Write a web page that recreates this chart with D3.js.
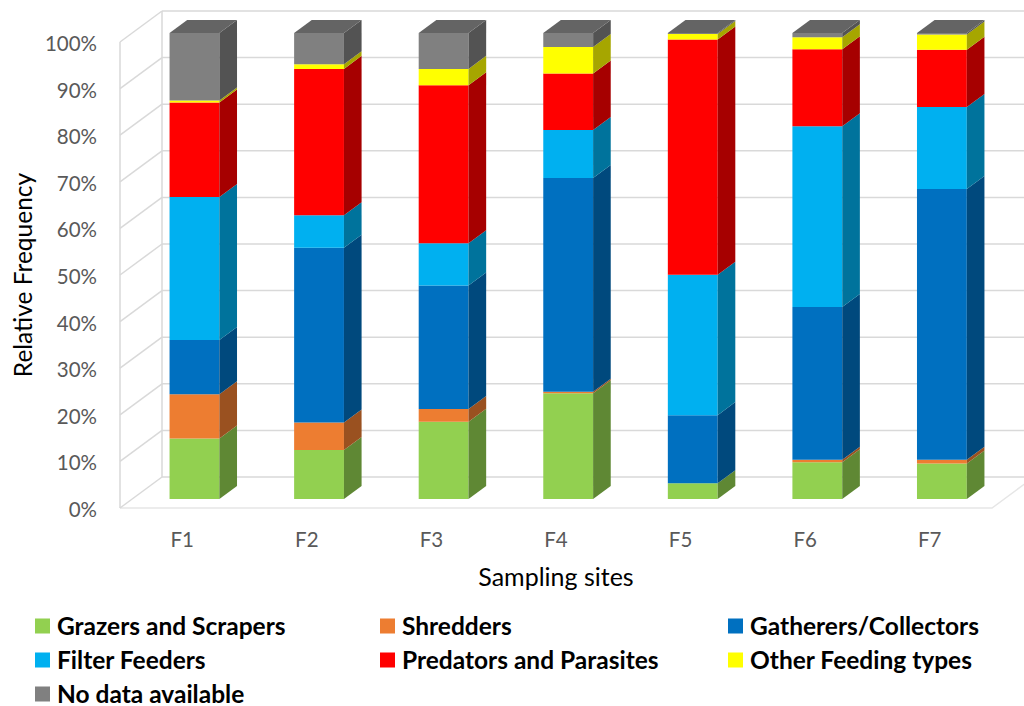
<!DOCTYPE html>
<html>
<head>
<meta charset="utf-8">
<script src="https://cdn.jsdelivr.net/npm/d3@7/dist/d3.min.js"></script>
<style>
  html, body { margin: 0; padding: 0; background: #ffffff; }
  svg { display: block; }
</style>
</head>
<body>
<svg id="chart" width="1024" height="706"></svg>
<script>
// ---------------- DATA ----------------
const categories = ["F1", "F2", "F3", "F4", "F5", "F6", "F7"];
const seriesNames = ["Grazers and Scrapers", "Shredders", "Gatherers/Collectors",
                     "Filter Feeders", "Predators and Parasites", "Other Feeding types",
                     "No data available"];
const seriesColors = ["#92D050", "#ED7D31", "#0070C0", "#00B0F0", "#FF0000", "#FFFF00", "#808080"];
const grazers    = [13.0, 10.5, 16.6, 22.7,  3.4,  7.9,  7.6];
const shredders  = [ 9.5,  5.9,  2.7,  0.3,  0.0,  0.5,  0.8];
const gatherers  = [11.6, 37.5, 26.5, 45.9, 14.6, 32.8, 58.1];
const filters    = [30.7,  7.0,  9.1, 10.3, 30.1, 38.8, 17.6];
const predators  = [20.3, 31.4, 33.9, 12.1, 50.5, 16.5, 12.3];
const otherTypes = [ 0.4,  1.0,  3.5,  5.7,  1.2,  2.6,  3.3];
const noData     = [14.5,  6.7,  7.7,  3.0,  0.2,  0.9,  0.3];
const yTicks = [0, 10, 20, 30, 40, 50, 60, 70, 80, 90, 100];
const yTickLabels = yTicks.map(t => t + "%");
const yTitle = "Relative Frequency";
const xTitle = "Sampling sites";

const seriesValues = [grazers, shredders, gatherers, filters, predators, otherTypes, noData];

// ---------------- LAYOUT ----------------
const svg = d3.select("#chart");
const FONT = "Lato, 'Open Sans', sans-serif";
const DX = 42, DY = 31;          // full depth offset of the 3D box
const D0 = 0.29, D1 = 0.71;      // bar depth span (fraction of box depth)

const x = d3.scaleBand().domain(categories).range([120, 992]);
const y = d3.scaleLinear().domain([0, 100]).range([508, 42]);
const bw = x.bandwidth();
const proj = (px, py, d) => [px + DX * d, py - DY * d];
const poly = pts => "M" + pts.map(p => p.join(",")).join("L") + "Z";

const x0 = x.range()[0], x1 = x.range()[1];

// ---------------- WALLS ----------------
const walls = svg.append("g").attr("fill", "none");
// floor
walls.append("path")
  .attr("d", "M" + [proj(x0, y(0), 0), proj(x1, y(0), 0), proj(x1, y(0), 1)].map(p => p.join(",")).join("L"))
  .attr("stroke", "#E6E6E6").attr("stroke-width", 1.5);
// back wall gridlines and left wall diagonals
yTicks.forEach(t => {
  const a = proj(x0, y(t), 1), b = proj(x1, y(t), 1);
  walls.append("line").attr("x1", a[0]).attr("y1", a[1]).attr("x2", b[0]).attr("y2", b[1])
    .attr("stroke", "#D9D9D9").attr("stroke-width", 1.5);
  const c = proj(x0, y(t), 0);
  walls.append("line").attr("x1", c[0]).attr("y1", c[1]).attr("x2", a[0]).attr("y2", a[1])
    .attr("stroke", "#D9D9D9").attr("stroke-width", 1.5);
});
// left wall verticals
[0, 1].forEach(d => {
  const a = proj(x0, y(0), d), b = proj(x0, y(100), d);
  walls.append("line").attr("x1", a[0]).attr("y1", a[1]).attr("x2", b[0]).attr("y2", b[1])
    .attr("stroke", "#D9D9D9").attr("stroke-width", 1.5);
});

// ---------------- BARS ----------------
const stackData = categories.map((c, i) => {
  const o = { cat: c };
  seriesNames.forEach((s, k) => { o[s] = seriesValues[k][i]; });
  return o;
});
const stacked = d3.stack().keys(seriesNames)(stackData);
const bars = svg.append("g");
categories.forEach((c, i) => {
  const xl = x(c) + bw * 0.3, xr = x(c) + bw * 0.7;
  const g = bars.append("g");
  stacked.forEach((layer, k) => {
    const v0 = layer[i][0], v1 = layer[i][1];
    if (v1 - v0 <= 0) return;
    const col = d3.rgb(seriesColors[k]);
    const yb = y(v0), yt = y(v1);
    g.append("path").attr("d", poly([proj(xl, yt, D0), proj(xr, yt, D0), proj(xr, yb, D0), proj(xl, yb, D0)]))
      .attr("fill", col.formatHex());
    g.append("path").attr("d", poly([proj(xr, yt, D0), proj(xr, yt, D1), proj(xr, yb, D1), proj(xr, yb, D0)]))
      .attr("fill", col.darker(1.2).formatHex());
  });
  // top face of the last (top) segment
  const top = stacked[stacked.length - 1][i][1];
  let topK = stacked.length - 1;
  while (topK > 0 && stacked[topK][i][1] - stacked[topK][i][0] <= 0) topK--;
  const yt = y(top);
  g.append("path").attr("d", poly([proj(xl, yt, D0), proj(xl, yt, D1), proj(xr, yt, D1), proj(xr, yt, D0)]))
    .attr("fill", d3.rgb(seriesColors[topK]).darker(0.7).formatHex());
});

// ---------------- AXES TEXT ----------------
const axisG = svg.append("g").attr("font-family", FONT).attr("fill", "#595959");
yTicks.forEach((t, i) => {
  axisG.append("text").attr("x", 97).attr("y", y(t) + 9)
    .attr("text-anchor", "end").attr("font-size", 20.5).text(yTickLabels[i]);
});
categories.forEach(c => {
  axisG.append("text").attr("x", x(c) + bw / 2).attr("y", 547)
    .attr("text-anchor", "middle").attr("font-size", 20.5).text(c);
});
svg.append("text").attr("font-family", FONT).attr("font-size", 24.5).attr("fill", "#000")
  .attr("text-anchor", "middle").attr("dominant-baseline", "central")
  .attr("transform", "translate(22,275) rotate(-90)").text(yTitle);
svg.append("text").attr("font-family", FONT).attr("font-size", 25).attr("fill", "#000")
  .attr("text-anchor", "middle").attr("x", 556).attr("y", 586).text(xTitle);

// ---------------- LEGEND ----------------
const legCols = [35, 380, 728];
const legRows = [626, 660, 694];
const legend = svg.append("g").attr("font-family", FONT).attr("font-weight", "bold").attr("font-size", 24.5);
seriesNames.forEach((s, k) => {
  const cx = legCols[k % 3], cy = legRows[Math.floor(k / 3)];
  legend.append("rect").attr("x", cx).attr("y", cy - 7.5).attr("width", 15).attr("height", 15)
    .attr("fill", seriesColors[k]);
  legend.append("text").attr("x", cx + 22).attr("y", cy + 8.5).attr("fill", "#000").text(s);
});
</script>
</body>
</html>
